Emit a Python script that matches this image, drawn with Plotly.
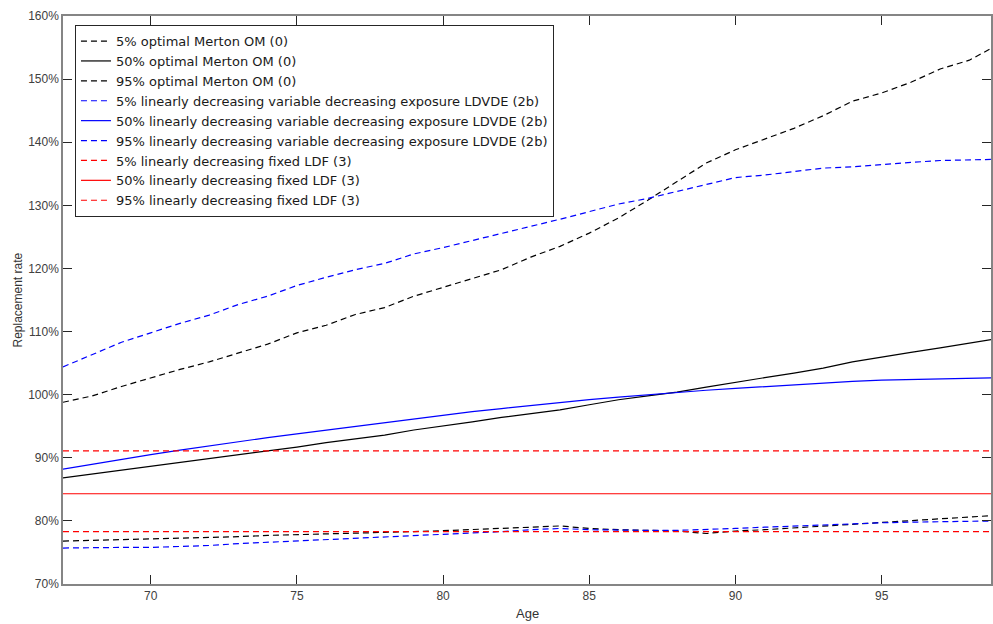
import plotly.graph_objects as go

ages = list(range(67, 100))

om_p5 = [76.8, 76.9, 77.0, 77.1, 77.2, 77.4, 77.5, 77.7, 77.8, 77.9, 78.0, 78.1, 78.3, 78.45, 78.6, 78.8, 79.0, 79.2,
         78.8, 78.6, 78.5, 78.4, 78.0, 78.4, 78.6, 78.9, 79.2, 79.5, 79.8, 80.1, 80.4, 80.6, 80.9]
om_p50 = [86.8, 87.4, 88.0, 88.6, 89.2, 89.8, 90.4, 91.1, 91.7, 92.4, 93.0, 93.6, 94.4, 95.0, 95.7, 96.4, 97.0, 97.6,
          98.4, 99.2, 99.8, 100.4, 101.2, 102.0, 102.7, 103.4, 104.2, 105.2, 106.0, 106.7, 107.4, 108.1, 108.9]
om_p95 = [98.8, 99.8, 101.3, 102.7, 104.0, 105.2, 106.6, 108.0, 109.8, 111.0, 112.7, 113.8, 115.6, 117.0, 118.3, 119.8,
          121.8, 123.5, 125.6, 128.0, 130.8, 133.8, 136.7, 138.8, 140.5, 142.2, 144.2, 146.5, 147.8, 149.5, 151.6, 153.0, 155.5]

ldvde_p5 = [75.7, 75.8, 75.8, 75.8, 75.9, 76.1, 76.4, 76.6, 76.8, 77.0, 77.2, 77.4, 77.6, 77.9, 78.1, 78.3, 78.6, 78.8,
            78.6, 78.5, 78.5, 78.5, 78.6, 78.8, 79.0, 79.2, 79.4, 79.6, 79.7, 79.8, 79.9, 80.0, 80.0]
ldvde_p50 = [88.2, 89.0, 89.8, 90.5, 91.2, 91.9, 92.5, 93.2, 93.8, 94.4, 95.0, 95.6, 96.2, 96.8, 97.3, 97.8, 98.3, 98.8,
             99.2, 99.6, 100.0, 100.4, 100.7, 101.0, 101.3, 101.6, 101.8, 102.1, 102.3, 102.4, 102.5, 102.7, 102.7]
ldvde_p95 = [104.4, 106.3, 108.3, 109.8, 111.3, 112.6, 114.3, 115.6, 117.3, 118.6, 119.8, 120.8, 122.3, 123.3, 124.4,
             125.6, 126.6, 127.8, 129.0, 130.2, 131.1, 132.2, 133.4, 134.4, 134.8, 135.3, 135.9, 136.1, 136.5, 136.8,
             137.1, 137.2, 137.3]

ldf_p5 = [78.3] * len(ages)
ldf_p50 = [84.3] * len(ages)
ldf_p95 = [91.1] * len(ages)

y_ticks = [70, 80, 90, 100, 110, 120, 130, 140, 150, 160]
y_tick_labels = [f"{v}%" for v in y_ticks]
x_ticks = [70, 75, 80, 85, 90, 95]

series = [
    ("5% optimal Merton OM (0)", om_p5, "black", "6px,4px"),
    ("50% optimal Merton OM (0)", om_p50, "black", "solid"),
    ("95% optimal Merton OM (0)", om_p95, "black", "6px,4px"),
    ("5% linearly decreasing variable decreasing exposure LDVDE (2b)", ldvde_p5, "#0000ff", "6px,4px"),
    ("50% linearly decreasing variable decreasing exposure LDVDE (2b)", ldvde_p50, "#0000ff", "solid"),
    ("95% linearly decreasing variable decreasing exposure LDVDE (2b)", ldvde_p95, "#0000ff", "6px,4px"),
    ("5% linearly decreasing fixed LDF (3)", ldf_p5, "#ff0000", "6px,4px"),
    ("50% linearly decreasing fixed LDF (3)", ldf_p50, "#ff0000", "solid"),
    ("95% linearly decreasing fixed LDF (3)", ldf_p95, "#ff0000", "6px,4px"),
]

fig = go.Figure()
for name, vals, color, dash in series:
    fig.add_trace(go.Scatter(x=ages, y=vals, mode="lines", name=name,
                             line=dict(color=color, width=1.2, dash=dash)))

axis_col = "#858585"
font_fam = "Liberation Sans, Arial, Helvetica, sans-serif"

fig.update_layout(
    width=993, height=624,
    margin=dict(l=63, r=0, t=16, b=40),
    paper_bgcolor="white", plot_bgcolor="white",
    font=dict(family=font_fam, size=12, color="#333333"),
    showlegend=True,
    legend=dict(x=0.0129, y=0.984, xanchor="left", yanchor="top",
                bgcolor="white", bordercolor="#262626", borderwidth=1,
                font=dict(family="DejaVu Sans, sans-serif", size=13, color="#1a1a1a"),
                tracegroupgap=0),
    xaxis=dict(range=[67, 98.74], tickvals=x_ticks, ticks="inside", ticklen=9,
               tickcolor="#262626", showline=True, linecolor=axis_col, linewidth=1.5,
               mirror="ticks", showgrid=False, zeroline=False,
               tickfont=dict(size=12, color="#404040")),
    yaxis=dict(range=[70, 160], tickvals=y_ticks, ticktext=y_tick_labels, ticks="inside",
               ticklen=9, tickcolor="#262626", showline=True, linecolor=axis_col, linewidth=1.5,
               mirror="ticks", showgrid=False, zeroline=False,
               tickfont=dict(size=12, color="#404040")),
    annotations=[
        dict(text="Age", x=0.5, xref="paper", y=-0.0528, yref="paper", showarrow=False,
             xanchor="center", yanchor="middle", font=dict(size=13, color="#333333")),
        dict(text="Replacement rate", x=-0.049, xref="paper", y=0.5, yref="paper", showarrow=False,
             textangle=-90, xanchor="center", yanchor="middle", font=dict(size=12, color="#333333")),
    ],
)

fig.write_html("out.html")
